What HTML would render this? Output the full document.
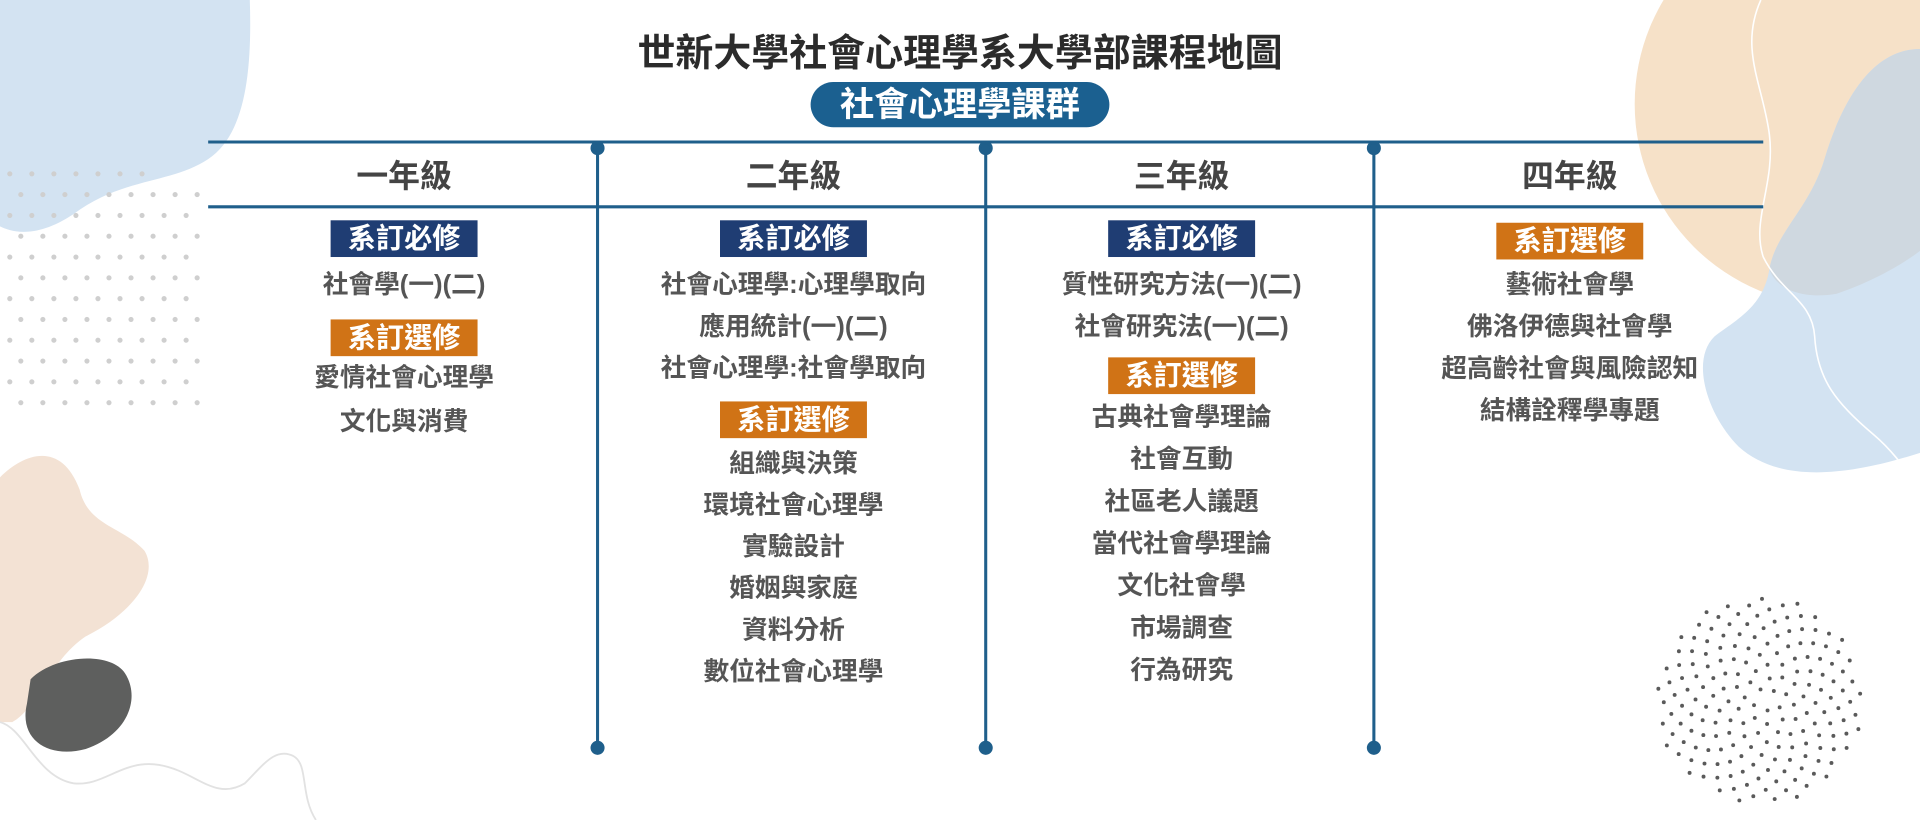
<!DOCTYPE html>
<html><head><meta charset="utf-8"><style>
html,body{margin:0;padding:0;background:#fff;width:1920px;height:820px;overflow:hidden}
svg{display:block}
text{font-family:"Liberation Sans","Noto Sans CJK TC",sans-serif;font-weight:bold;text-anchor:middle;dominant-baseline:central}
.it{fill:#555;font-size:21px}
.yr{fill:#444;font-size:26px}
.bd{fill:#fff;font-size:23px}
</style></head><body>
<svg id="s" width="1920" height="820" viewBox="0 0 1568 670" preserveAspectRatio="none" xmlns="http://www.w3.org/2000/svg">
<path d="M0 0 H204 C206 60 200 110 170 130 C140 150 100 145 60 175 C30 195 10 190 0 185 Z" fill="#d3e3f2"/>
<g id="dotsL" fill="#cfcfcf"></g>
<path d="M0 390 C20 370 50 360 65 400 C72 430 100 430 118 450 C130 470 110 500 70 520 C40 540 30 580 10 590 L0 590 Z" fill="#f3e2d4"/>
<path d="M25 555 C45 535 90 532 102 550 C115 570 105 600 70 612 C40 620 15 605 22 575 Z" fill="#5e5f5e"/>
<path d="M0 590 C20 595 30 635 60 640 C85 643 100 620 130 625 C160 630 175 655 200 640 C215 625 225 610 240 618 C252 625 245 650 258 670" fill="none" stroke="#e2e2e2" stroke-width="1.5"/>
<circle cx="1500" cy="85" r="165" fill="#f6e1c8"/>
<path d="M1568 40 C1530 40 1505 80 1490 130 C1478 170 1450 190 1445 220 C1440 250 1420 260 1400 275 C1380 295 1395 340 1420 365 C1450 392 1500 392 1568 370 Z" fill="#d3e3f2"/>
<path d="M1568 40 C1530 40 1505 80 1490 130 C1478 170 1450 190 1445 220 C1450 235 1470 245 1500 240 C1530 230 1555 215 1568 205 Z" fill="#cfd8e0"/>
<path d="M1438 0 C1420 40 1440 70 1445 110 C1450 150 1430 180 1440 210 C1455 240 1480 245 1482 275 C1484 310 1500 330 1530 355 C1550 372 1560 390 1568 400" fill="none" stroke="#fff" stroke-width="1.3"/>
<g id="dotsR" fill="#5a5a5a"></g>
<text x="784" y="44" style="font-size:31px;fill:#2b2b2b">世新大學社會心理學系大學部課程地圖</text>
<rect x="662" y="67" width="244" height="37" rx="18.5" fill="#1b6090"/>
<text x="784" y="86" style="font-size:28px;fill:#fff">社會心理學課群</text>
<g stroke="#1f5f8b" stroke-width="2.5" fill="#1f5f8b">
<line x1="170" y1="116" x2="1440" y2="116"/>
<line x1="170" y1="169" x2="1440" y2="169"/>
<line x1="488" y1="120" x2="488" y2="611"/>
<line x1="805" y1="120" x2="805" y2="611"/>
<line x1="1122" y1="120" x2="1122" y2="611"/>
<circle cx="488" cy="121" r="4.5"/><circle cx="805" cy="121" r="4.5"/><circle cx="1122" cy="121" r="4.5"/>
<circle cx="488" cy="611" r="4.5"/><circle cx="805" cy="611" r="4.5"/><circle cx="1122" cy="611" r="4.5"/>
</g>
<text class="yr" x="330" y="144">一年級</text>
<text class="yr" x="648" y="144">二年級</text>
<text class="yr" x="965" y="144">三年級</text>
<text class="yr" x="1282" y="144">四年級</text>
<g id="cols"></g>
</svg>
<script>
var NS="http://www.w3.org/2000/svg";
function el(t,a,p,txt){var e=document.createElementNS(NS,t);for(var k in a)e.setAttribute(k,a[k]);if(txt)e.textContent=txt;p.appendChild(e);return e;}
var cols=document.getElementById('cols');
function badge(x,y,req){el('rect',{x:x-60,y:y,width:120,height:30,fill:req?'#1f3d73':'#d07316'},cols);el('text',{x:x,y:y+15,'class':'bd'},cols,req?'系訂必修':'系訂選修');}
function item(x,y,t){el('text',{x:x,y:y,'class':'it'},cols,t);}
badge(330,180,1);item(330,233,'社會學(一)(二)');badge(330,261,0);item(330,309,'愛情社會心理學');item(330,345,'文化與消費');
badge(648,180,1);['社會心理學:心理學取向','應用統計(一)(二)','社會心理學:社會學取向'].forEach(function(t,i){item(648,233+34*i,t)});
badge(648,328,0);['組織與決策','環境社會心理學','實驗設計','婚姻與家庭','資料分析','數位社會心理學'].forEach(function(t,i){item(648,379+34*i,t)});
badge(965,180,1);['質性研究方法(一)(二)','社會研究法(一)(二)'].forEach(function(t,i){item(965,233+34*i,t)});
badge(965,292,0);['古典社會學理論','社會互動','社區老人議題','當代社會學理論','文化社會學','市場調查','行為研究'].forEach(function(t,i){item(965,341+34.5*i,t)});
badge(1282,182,0);['藝術社會學','佛洛伊德與社會學','超高齡社會與風險認知','結構詮釋學專題'].forEach(function(t,i){item(1282,233+34.3*i,t)});
var dL=document.getElementById('dotsL');
for(var r=0;r<12;r++)for(var c=0;c<9;c++){var x=8+c*18+(r%2)*9,y=142+r*17;if(y<150&&x>120)continue;el('circle',{cx:x,cy:y,r:2.1},dL);}
var dR=document.getElementById('dotsR');
for(var i=1;i<190;i++){var a=i*2.39996,rr=85*Math.sqrt(i/190);el('circle',{cx:1437+rr*Math.cos(a),cy:572+rr*Math.sin(a),r:1.6},dR);}
</script>
</body></html>
